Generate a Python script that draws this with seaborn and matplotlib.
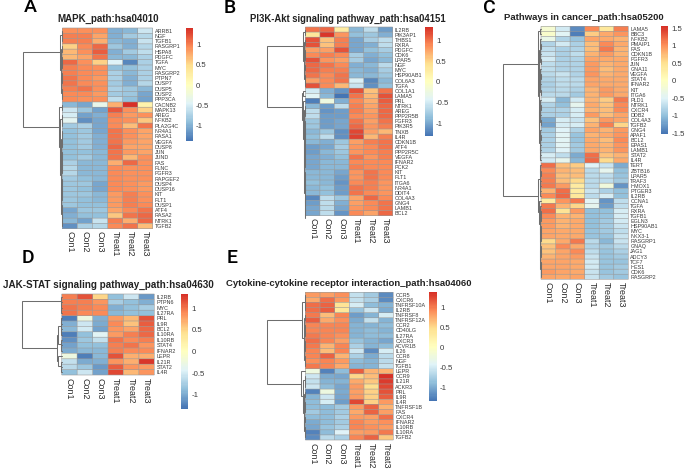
import numpy as np
import pandas as pd
import matplotlib
matplotlib.use("Agg")
import matplotlib.pyplot as plt
import seaborn as sns
from matplotlib.colors import LinearSegmentedColormap

sns.set_theme(style="white")
plt.rcParams["font.family"] = ["Liberation Sans", "DejaVu Sans"]

W, H = 685, 470
samples = ["Con1", "Con2", "Con3", "Treat1", "Treat2", "Treat3"]
cmap = LinearSegmentedColormap.from_list(
    "ph", ["#4575B4", "#91BFDB", "#E0F3F8", "#FFFFBF", "#FEE090", "#FC8D59", "#D73027"], N=100)

a_genes = ["ARRB1","NGF","TGFB1","RASGRP1","HSPA8","PDGFC","TGFA","MYC","RASGRP2","PTPN7","DUSP7","DUSP5","DUSP2","PPP3CA","CACNB2","MAPK13","AREG","NFKB2","PLA2G4C","NR4A1","RASA1","VEGFA","DUSP8","JUN","JUND","FAS","FLNC","FGFR3","RAPGEF2","DUSP4","DUSP16","KIT","FLT1","DUSP1","ATF4","RASA2","NTRK1","TGFB2"]
a_vals = [
[.9,.9,.9,-1.0,-.95,-.55],[1.0,1.0,.8,-1.0,-.8,-.7],[1.0,1.0,.75,-.95,-1.0,-.6],[.55,.95,1.1,-.85,-1.0,-.7],
[.7,.9,1.15,-1.0,-.8,-.65],[.7,.8,1.05,-.95,-.95,-.75],[1.1,.9,.55,-.45,-1.25,-.75],[1.0,.95,.9,-.9,-.9,-.75],
[1.0,.95,.9,-.75,-.95,-.75],[1.05,.95,.85,-.75,-1.0,-.75],[1.05,.95,.9,-.8,-1.0,-.7],[1.0,1.05,.9,-.75,-.85,-.95],
[.95,.95,.85,-.8,-.85,-1.05],[.95,.9,.9,-.65,-.9,-1.1],[-.95,-1.05,-.35,.75,1.4,.2],[-.55,-.85,-1.1,1.2,.9,.55],
[-.5,-1.1,-1.0,1.0,.85,.9],[-.4,-1.2,-1.05,.95,.9,.6],[-.8,-.75,-1.05,.95,.65,1.05],[-.9,-.85,-1.05,1.05,.9,.8],
[-.9,-.8,-1.0,1.05,.9,.8],[-.9,-.8,-1.0,1.05,.85,.8],[-.9,-.8,-1.0,1.1,.8,.8],[-.9,-.9,-.95,1.05,.85,.8],
[-.9,-.8,-.95,1.05,.7,.9],[-.75,-.95,-.95,.75,1.1,.9],[-.7,-.95,-.95,.95,.9,.9],[-.7,-.95,-.95,.95,.9,.9],
[-.8,-.9,-.95,.95,.9,.9],[-.85,-.85,-1.05,.95,.9,.85],[-.85,-.9,-1.05,.95,.9,.85],[-.85,-.85,-.95,.85,1.0,.9],
[-.85,-.9,-.95,.85,1.0,.9],[-.85,-.9,-.9,.85,1.0,.95],[-1.05,-.85,-.85,.8,.95,1.05],[-1.0,-.9,-.9,.6,1.05,1.1],
[-.95,-1.1,-.6,1.0,.75,1.1],[-1.2,-.75,-.7,.95,1.05,.65]]

b_genes = ["IL2RB","PIK3AP1","THBS1","RXRA","PDGFC","CDK6","LPAR5","NGF","MYC","HSP90AB1","COL6A3","TGFA","COL1A1","LAMA5","PRL","NTRK1","AREG","PPP2R5B","FGFR3","PIK3R5","TNXB","IL4R","CDKN1B","ATF4","PPP2R5C","VEGFA","IFNAR2","PCK2","KIT","FLT1","ITGA6","NR4A1","DDIT4","COL4A3","GNG4","LAMB1","BCL2"]
b_vals = [
[1.0,1.05,.3,-.9,-.6,-1.05],[.35,1.3,.85,-.85,-.8,-.95],[1.15,.6,.95,-1.0,-.75,-.6],[1.15,.6,.95,-1.0,-.95,-.6],
[.8,.8,1.15,-1.0,-.85,-.75],[.9,.95,.9,-.75,-.95,-.85],[1.15,.85,.8,-.75,-1.0,-.9],[1.05,1.0,.9,-.95,-.9,-.65],
[1.05,.95,.95,-.9,-.95,-.75],[1.0,.9,1.0,-.9,-.9,-.8],[.8,.9,1.0,-.45,-1.2,-.9],[1.15,.9,.65,-.55,-1.15,-.85],
[-.5,-.95,-1.1,1.15,.6,1.0],[-.4,-.9,-1.3,1.0,.65,1.15],[-1.25,-.25,-.95,.9,.7,1.1],[-.9,-1.05,-.6,.95,.75,1.05],
[-.6,-1.1,-1.05,.95,.8,1.05],[-.6,-1.05,-1.05,.9,.85,1.05],[-.8,-1.05,-1.0,1.0,.8,1.0],[-.8,-1.05,-1.0,1.05,.85,.95],
[-.9,-.8,-1.15,1.2,.8,.65],[-.85,-.6,-1.15,1.25,.65,.95],[-.9,-.95,-.8,.8,.95,1.0],[-1.05,-1.0,-.75,.85,.9,1.0],
[-1.05,-.9,-.8,.85,.9,.95],[-1.0,-.95,-.85,1.0,.85,.95],[-1.0,-.9,-.9,.9,.9,.9],[-1.0,-.9,-.9,.95,.9,.9],
[-.9,-.9,-1.0,.85,1.0,.9],[-.9,-.9,-1.05,.85,1.0,.9],[-.85,-.9,-1.1,.9,.95,.85],[-.9,-.85,-1.05,1.0,.95,.85],
[-.9,-.85,-1.05,1.0,.9,.85],[-1.2,-.6,-.8,.75,1.05,.9],[-1.05,-.6,-.95,.8,.9,1.0],[-1.0,-.65,-1.0,.85,.9,1.0],
[-1.0,-.6,-1.1,.9,.75,1.05]]

c_genes = ["LAMA5","BBC3","NFKB2","PMAIP1","FAS","CDKN1B","FGFR3","JUN","GNA11","VEGFA","STAT4","IFNAR2","KIT","ITGA6","PLD1","NTRK1","CXCR4","DDB2","COL4A3","TGFB2","GNG4","APAF1","BCL2","EPAS1","LAMB1","STAT2","IL4R","TERT","ZBTB16","LPAR5","TRAF3","HMOX1","PTGER3","IL2RB","CCNA1","TGFA","RXRA","TGFB1","EGLN3","HSP90AB1","MYC","NKX3-1","RASGRP1","GNAQ","JAG1","ADCY3","TCF7","HES1","CDK6","RASGRP2"]
c_vals = [
[-.15,-.6,-1.35,1.05,.4,1.1],[-.1,-.45,-1.45,.65,.85,1.0],[-.35,-.8,-.95,.9,.85,.8],[-.8,-.6,-.85,.75,1.05,.85],
[-.7,-.85,-.8,.75,1.15,.8],[-.65,-.85,-.7,.8,.95,.8],[-.6,-.85,-.8,.9,.85,.85],[-.7,-.8,-.8,.95,.8,.85],
[-.7,-.8,-.8,.95,.75,.85],[-.75,-.65,-.8,1.0,.8,.85],[-.8,-.7,-.75,.9,.85,.85],[-.85,-.7,-.75,.9,.85,.85],
[-.8,-.75,-.8,.8,.95,.85],[-.75,-.75,-.9,.8,.95,.85],[-.55,-1.05,-.6,.8,.65,1.15],[-.8,-1.0,-.4,.85,.7,1.05],
[-.85,-.8,-.55,.8,.75,1.05],[-.85,-.85,-.55,.95,.75,.9],[-1.15,-.55,-.65,.7,.95,.9],[-1.2,-.55,-.55,.8,1.1,.6],
[-.9,-.5,-.8,.9,.8,.95],[-.85,-.45,-.95,.8,.85,1.0],[-.85,-.45,-.95,.85,.75,1.05],[-.85,-.45,-.9,.85,.8,1.0],
[-.8,-.5,-.9,.85,.8,1.0],[-.55,-.7,-1.15,1.2,.7,.8],[-.6,-.4,-1.05,1.25,.55,.85],
[1.2,.75,.65,-.5,-.65,-1.15],[1.05,.8,.75,-.75,-.4,-1.0],[1.1,.75,.75,-.75,-.7,-.95],[1.1,.75,.55,-.75,-.7,-.9],
[1.15,.95,.35,-.75,-.25,-1.3],[.8,1.2,.35,-.65,-.85,-1.0],[1.05,1.25,.4,-.75,-.55,-1.0],[.35,1.0,1.15,-.45,-1.3,-.7],
[1.15,.8,.6,-.4,-1.25,-.7],[1.2,.45,.95,-1.0,-1.0,-.55],[1.05,.8,.8,-1.0,-.95,-.55],[.95,.8,.85,-1.0,-.9,-.6],
[.95,.8,.85,-1.0,-.9,-.65],[.9,.85,.85,-.95,-.9,-.7],[.9,.85,.85,-.95,-.95,-.65],[.55,.85,1.15,-.75,-1.05,-.65],
[.7,1.05,.85,-.8,-.9,-.75],[.7,.9,1.05,-.7,-.95,-.85],[.8,.9,.95,-.65,-.95,-.9],[.9,.9,.85,-.6,-.95,-.95],
[.9,.9,.85,-.6,-.95,-.9],[.95,.9,.85,-.65,-.95,-.9],[.9,.85,.9,-.65,-.9,-.95]]

d_genes = ["IL2RB","PTPN6","MYC","IL27RA","PRL","IL9R","BCL2","IL10RA","IL10RB","STAT4","IFNAR2","LEPR","IL21R","STAT2","IL4R"]
d_vals = [
[.95,1.15,.5,-.85,-.55,-1.1],[.95,.95,.85,-.75,-.85,-.95],[1.0,.95,.9,-.95,-.85,-.75],[1.0,.9,.9,-.9,-.85,-.85],
[-1.25,-.25,-.95,.8,.65,1.15],[-.95,-.55,-1.0,.9,.6,1.1],[-.9,-.5,-1.05,.85,.75,1.05],[-1.25,-.85,-.4,.8,.95,1.05],
[-1.15,-.8,-.6,1.0,.9,.95],[-1.05,-.85,-.85,.95,1.0,.85],[-1.0,-.9,-.9,.95,.9,.9],[-.25,-1.25,-.9,1.15,.7,.7],
[-.6,-1.0,-.95,.85,.7,1.3],[-.65,-.8,-1.1,1.1,.85,.8],[-.85,-.55,-1.05,1.2,.65,.85]]

e_genes = ["CCR5","CXCR6","TNFRSF10A","IL2RB","TNFRSF8","TNFRSF12A","CCR2","CD40LG","IL27RA","CXCR3","ACVR1B","IL26","CCR8","NGF","TGFB1","LEPR","CCR9","IL21R","ACKR3","PRL","IL9R","IL4R","TNFRSF1B","FAS","CXCR4","IFNAR2","IL10RB","IL10RA","TGFB2"]
e_vals = [
[.85,.8,.9,-.6,-.8,-1.2],[.75,1.05,.85,-.6,-.75,-1.2],[1.05,1.1,.4,-.5,-.9,-.95],[1.05,1.15,.35,-.85,-.55,-1.0],
[1.0,.65,.95,-1.1,-.95,-.5],[1.15,.75,.9,-1.0,-.6,-.95],[.95,.95,.95,-.95,-.95,-.9],[.95,.95,.95,-.95,-.9,-.95],
[1.0,.95,.9,-.95,-.9,-.9],[1.05,.95,.8,-.85,-.95,-1.05],[1.0,.7,.95,-.75,-.95,-.9],[.95,.65,.95,-.55,-1.2,-.5],
[.95,1.1,.7,-.75,-1.0,-.65],[.9,.95,.85,-.9,-.95,-.65],[1.0,.95,.75,-.95,-.95,-.6],
[-.25,-1.25,-.9,1.15,.7,.7],[-.55,-1.0,-1.05,.5,.65,1.35],[-.6,-.95,-.95,.75,.6,1.3],[-.55,-.9,-1.05,.85,.45,1.25],
[-1.25,-.25,-1.0,.8,.55,1.2],[-.95,-.55,-1.05,.85,.55,1.15],[-.9,-.5,-1.1,1.25,.55,.85],[-.9,-.9,-.8,.85,1.1,.7],
[-.8,-.9,-.8,.75,1.1,.8],[-.9,-.9,-.75,.85,.8,1.05],[-1.0,-.9,-.8,.95,.85,.9],[-1.05,-.85,-.75,.95,.9,.85],
[-1.25,-.9,-.45,.8,.85,1.0],[-1.2,-.65,-.75,.95,1.1,.6]]

# dendrogram topologies: [height, child, child]; an int is a tight cluster of that many rows
a_tree = [1.0, [.05, 3, 11], [.08, 2, [.05, 3, 19]]]
b_tree = [1.0, [.06, 2, 10], [.075, [.05, 1, 1], [.06, 1, [.04, 3, 20]]]]
c_tree = [1.0, [.09, 2, 25], [.09, 7, [.05, 1, [.03, 1, 14]]]]
d_tree = [1.0, [.03, 1, 3], [.125, [.09, 4, 3], [.10, 1, 3]]]
e_tree = [1.0, [.09, 4, 11], [.11, 1, [.07, 3, 10]]]

panels = [
 dict(letter="A", lx=30, ly=7.5, title="MAPK_path:hsa04010", tfs=7.05, tx=107.7, ty=19.3, genes=a_genes, vals=a_vals, tree=a_tree,
      heat=(62.3, 28, 152.7, 228.7), cb=(185.7, 28, 193, 141.3), den=23.3, vr=(-1.38, 1.40), ticks=[-1, -.5, 0, .5, 1]),
 dict(letter="B", lx=230, ly=8, title="PI3K-Akt signaling pathway_path:hsa04151", tfs=6.85, tx=348, ty=19, genes=b_genes, vals=b_vals, tree=b_tree,
      heat=(305.3, 27, 392.7, 215.7), cb=(425.3, 27, 433, 136), den=266.7, vr=(-1.31, 1.33), ticks=[-1, -.5, 0, .5, 1]),
 dict(letter="C", lx=489, ly=8, title="Pathways in cancer_path:hsa05200", tfs=6.8, tx=584, ty=17.7, genes=c_genes, vals=c_vals, tree=c_tree,
      heat=(541, 26.3, 628.3, 279.3), cb=(661.3, 26.3, 668.3, 134.3), den=503.3, vr=(-1.53, 1.56), ticks=[-1.5, -1, -.5, 0, .5, 1, 1.5]),
 dict(letter="D", lx=28, ly=258, title="JAK-STAT signaling pathway_path:hsa04630", tfs=7.1, tx=108, ty=284.7, genes=d_genes, vals=d_vals, tree=d_tree,
      heat=(61.7, 294, 154.3, 375), cb=(181, 294, 188.3, 408.7), den=21.7, vr=(-1.32, 1.33), ticks=[-1, -.5, 0, .5, 1]),
 dict(letter="E", lx=232, ly=258, title="Cytokine-cytokine receptor interaction_path:hsa04060", tfs=6.8, tx=349, ty=284, genes=e_genes, vals=e_vals, tree=e_tree,
      heat=(305.3, 292.3, 393.3, 440), cb=(429.3, 292.3, 437, 401), den=267.3, vr=(-1.35, 1.37), ticks=[-1, -.5, 0, .5, 1]),
]


def rect(x0, y0, x1, y1):
    return [x0 / W, 1 - y1 / H, (x1 - x0) / W, (y1 - y0) / H]


def dendro(ax, node, start, parent_h):
    """Draw a tree node; returns (centre row, height, next start row)."""
    if isinstance(node, int):
        if node == 1:
            return start + .5, 0.0, start + 1
        h = min(parent_h * .7, .003 * node + .008)
        k = node // 2
        node = [h, k, node - k]
    h, a, b = node
    ca, ha, nxt = dendro(ax, a, start, h)
    cb, hb, nxt = dendro(ax, b, nxt, h)
    ax.plot([ha, h, h, hb], [ca, ca, cb, cb], color="#6e6e6e", lw=.75, solid_joinstyle="miter", clip_on=False)
    return (ca + cb) / 2, h, nxt


fig = plt.figure(figsize=(W / 100, H / 100), dpi=100, facecolor="white")
for p in panels:
    df = pd.DataFrame(p["vals"], index=p["genes"], columns=samples)
    n_r, n_c = df.shape
    ax = fig.add_axes(rect(*p["heat"]))
    cax = fig.add_axes(rect(*p["cb"]))
    sns.heatmap(df, ax=ax, cbar_ax=cax, cmap=cmap, vmin=p["vr"][0], vmax=p["vr"][1],
                linewidths=0, xticklabels=True, yticklabels=True,
                cbar_kws=dict(ticks=p["ticks"]))
    # thin cell borders, not snapped to the pixel grid
    for coll in (ax.hlines(np.arange(n_r + 1), 0, n_c, color="#9a9a9a", lw=.42),
                 ax.vlines(np.arange(n_c + 1), 0, n_r, color="#9a9a9a", lw=.42)):
        coll.set_snap(False)
        coll.set_clip_on(False)
    ax.yaxis.tick_right()
    ax.tick_params(axis="both", length=0, pad=1.5)
    ax.tick_params(axis="x", pad=2)
    ax.set_yticks(np.arange(n_r) + .5, p["genes"], rotation=0, fontsize=3.9, color="#3a3a3a")
    ax.set_xticklabels(samples, rotation=270, fontsize=6.4, color="#2a2a2a", ha="center", va="top")
    ax.set_xlabel(""); ax.set_ylabel("")
    cax.tick_params(length=0, labelsize=5.6, labelcolor="#3a3a3a", pad=2.2)
    for s in cax.spines.values():
        s.set_visible(False)
    cax.collections[0].set_edgecolor("face")
    cax.set_yticklabels([f"{t:g}" for t in p["ticks"]])

    x0, y0, x1, y1 = p["heat"]
    dax = fig.add_axes(rect(p["den"], y0, x0, y1))
    dendro(dax, p["tree"], 0, 1.0)
    dax.set_xlim(1.0, 0)
    dax.set_ylim(n_r, 0)
    dax.axis("off")

    fig.text(p["tx"] / W, 1 - p["ty"] / H, p["title"], ha="center", va="center",
             fontsize=p["tfs"], fontweight="bold", color="#222222")
    fig.text(p["lx"] / W, 1 - p["ly"] / H, p["letter"], ha="center", va="center",
             fontsize=14, fontweight="medium", family="Roboto", color="black")

fig.savefig("out.png", dpi=100, facecolor="white")
